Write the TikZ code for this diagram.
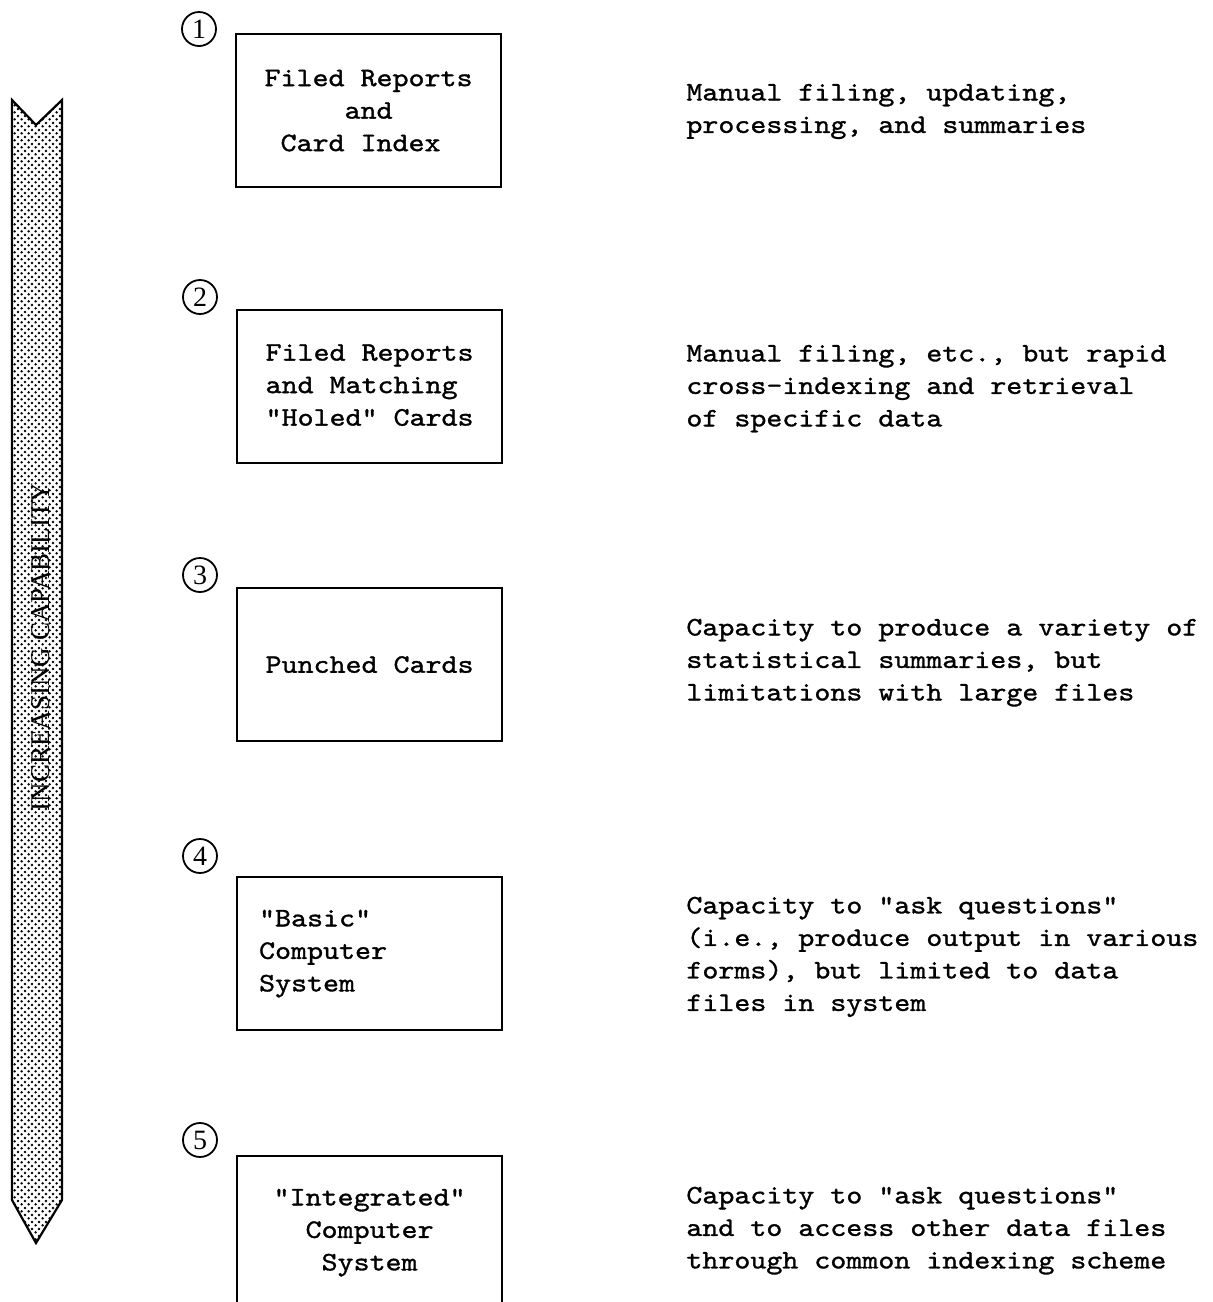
\documentclass[tikz,border=0pt]{standalone}
\usepackage{fontspec}
\setmainfont{Liberation Serif}
\newfontfamily\tw{lmmono10-regular.otf}[FakeStretch=1.143, FakeBold=1.2]
\usetikzlibrary{patterns,calc}

% staggered halftone dots for the capability band
\pgfdeclarepatternformonly{halftone}{\pgfqpoint{0pt}{0pt}}{\pgfqpoint{3.4pt}{3.4pt}}{\pgfqpoint{3.4pt}{3.4pt}}{%
  \pgfpathcircle{\pgfqpoint{0.85pt}{0.85pt}}{0.68pt}%
  \pgfpathcircle{\pgfqpoint{2.55pt}{2.55pt}}{0.68pt}%
  \pgfusepath{fill}}

\newcommand\twsize{\tw\fontsize{13.33pt}{16.25pt}\selectfont}
\newcommand\firststrut{\rule{0pt}{11pt}}

\begin{document}
\begin{tikzpicture}[x=0.5pt,y=-0.5pt,
  stage/.style={draw, line width=1.1pt, minimum width=132.5pt, minimum height=76.5pt,
    inner sep=0pt, align=center, font=\twsize, anchor=north west},
  stagenum/.style={circle, draw, line width=0.9pt, minimum size=17pt, inner sep=0pt,
    font=\fontsize{14pt}{14pt}\selectfont},
  desc/.style={anchor=north west, inner sep=0pt, align=left, font=\twsize}]

\useasboundingbox (0,0) rectangle (1212,1302);

% capability band
\draw[line width=1.1pt, pattern=halftone]
  (12,100) -- (36,125) -- (62,100) -- (62,1200) -- (36,1243) -- (12,1200) -- cycle;
\node[rotate=90, anchor=base, inner sep=0pt, font=\fontsize{13.5pt}{13.5pt}\selectfont]
  (cap) at (49,647) {INCREASING CAPABILITY};

% stages
\node[stage] (b1) at (235,33)
  {Filed Reports\\\phantom{XXXXX}and\phantom{XXXXX}\\Card Index\phantom{X}};
\node[stage] (b2) at (236,309)
  {\begin{tabular}{@{}l@{}}Filed Reports\\and Matching\\"Holed" Cards\end{tabular}};
\node[stage] (b3) at (236,587) {Punched Cards};
\node[stage, align=left, text width=110.5pt, inner xsep=11pt] (b4) at (236,876)
  {"Basic"\\Computer\\System};
\node[stage] (b5) at (236,1155) {"Integrated"\\Computer\\System};

% stage numbers
\node[stagenum] (n1) at ($(b1.north west)+(-36,-4)$) {1};
\node[stagenum] (n2) at ($(b2.north west)+(-36,-12)$) {2};
\node[stagenum] (n3) at ($(b3.north west)+(-36,-12)$) {3};
\node[stagenum] (n4) at ($(b4.north west)+(-36,-20)$) {4};
\node[stagenum] (n5) at ($(b5.north west)+(-36,-15)$) {5};

% descriptions
\node[desc] (d1) at (686,78)
  {\firststrut Manual filing, updating,\\processing, and summaries};
\node[desc] (d2) at (686,339)
  {\firststrut Manual filing, etc., but rapid\\cross-indexing and retrieval\\of specific data};
\node[desc] (d3) at (686,613)
  {\firststrut Capacity to produce a variety of\\statistical summaries, but\\limitations with large files};
\node[desc] (d4) at (686,891)
  {\firststrut Capacity to "ask questions"\\(i.e., produce output in various\\forms), but limited to data\\files in system};
\node[desc] (d5) at (686,1181)
  {\firststrut Capacity to "ask questions"\\and to access other data files\\through common indexing scheme};
\end{tikzpicture}
\end{document}
